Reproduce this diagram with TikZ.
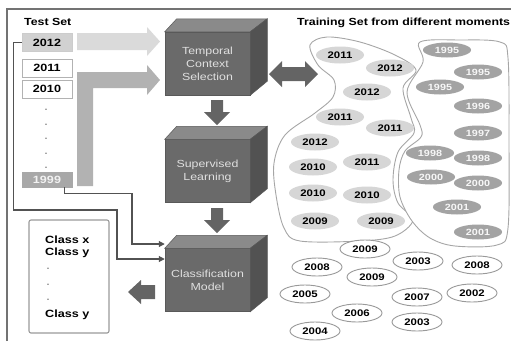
\documentclass[tikz,border=0pt]{standalone}
\usepackage{fontspec}
\setmainfont[FakeStretch=1.2]{Liberation Sans}
\usetikzlibrary{arrows.meta,calc,shapes.geometric}
\definecolor{frontc}{HTML}{6A6A6A}
\definecolor{topc}{HTML}{8A8A8A}
\definecolor{sidec}{HTML}{525252}
\definecolor{blkc}{HTML}{646464}
\definecolor{lightarr}{HTML}{DADADA}
\definecolor{midarr}{HTML}{B2B2B2}
\tikzset{
 framel/.style={draw=black!55, line width=1.3pt},
 tbox/.style={draw=black!30, line width=0.8pt, minimum width=50pt, minimum height=18pt, inner sep=0pt, font=\fontsize{10.5}{12}\selectfont\bfseries},
 front/.style={fill=frontc, draw=black!65, line width=0.5pt, minimum width=85pt, minimum height=63pt, inner sep=0pt, align=center, text=black!12, font=\fontsize{10.3}{13}\selectfont},
 lg/.style={ellipse, fill=black!16, minimum width=48pt, minimum height=17pt, inner sep=0pt, font=\fontsize{9.5}{10}\selectfont\bfseries},
 dg/.style={ellipse, fill=black!36, text=black!3, minimum width=48pt, minimum height=15pt, inner sep=0pt, font=\fontsize{9}{10}\selectfont\bfseries},
 wt/.style={ellipse, draw=black!40, line width=0.9pt, fill=white, minimum width=50pt, minimum height=18pt, inner sep=0pt, font=\fontsize{9.5}{10}\selectfont\bfseries},
 conn/.style={draw=black!68, line width=1.1pt, -{Triangle[length=6pt,width=6pt]}},
 blob/.style={draw=black!35, line width=0.9pt},
 blk/.style={fill=blkc},
 title/.style={font=\fontsize{10.3}{12}\selectfont\bfseries, inner sep=0pt},
 dotn/.style={font=\fontsize{9}{9}\selectfont\bfseries, text=black!45, inner sep=0pt},
 cls/.style={font=\fontsize{10.5}{12}\selectfont\bfseries, inner sep=0pt, anchor=west},
}
\newcommand\mycube[4]{%
  \node[front] (#1) at (#2,#3) {#4};
  \path[fill=topc, draw=black!65, line width=0.5pt] (#1.north west) -- ++(12,-13) -- ($(#1.north east)+(17,-13)$) -- (#1.north east) -- cycle;
  \path[fill=sidec, draw=black!65, line width=0.5pt] (#1.north east) -- ($(#1.north east)+(17,-13)$) -- ($(#1.south east)+(17,-14)$) -- (#1.south east) -- cycle;
}
\begin{document}
\begin{tikzpicture}[x=1pt,y=-1pt]
\useasboundingbox (0,0) rectangle (511,341);
% frame
\draw[framel] (7,341) -- (7,9) -- (511,9);

% titles
\node[title, anchor=west] (tst) at (24,22) {Test Set};
\node[title, anchor=west] (trn) at (297,23) {Training Set from different moments};

% test set boxes
\node[tbox, fill=black!18, draw=black!20] (y2012) at (47,42.5) {2012};
\node[tbox] (y2011) at (47,68) {2011};
\node[tbox] (y2010) at (47,89) {2010};
\node[tbox, fill=black!34, draw=black!34, minimum height=15pt, text=black!5] (y1999) at (47,179.5) {1999};
\foreach \yy/\nm in {110/d1,125/d2,139/d3,154/d4,168/d5}{\node[dotn] (\nm) at (46,\yy) {.};}

% wide arrows into temporal selection
\path[fill=lightarr] (77,33) -- (147,33) -- (147,27) -- (160,41.5) -- (147,56) -- (147,50) -- (77,50) -- cycle;
\path[fill=midarr] (77,186) -- (77,72) -- (147,72) -- (147,65) -- (160,80) -- (147,95) -- (147,88) -- (93,88) -- (93,186) -- cycle;

% cubes
\mycube{tcs}{207.5}{63.5}{Temporal\\Context\\Selection}
\mycube{sl}{207.5}{171}{Supervised\\Learning}
\mycube{cm}{207.5}{280}{Classification\\Model}

% down arrows
\path[blk] (211,100) -- (223,100) -- (223,112) -- (230,112) -- (217,125) -- (204,112) -- (211,112) -- cycle;
\path[blk] (211,208) -- (223,208) -- (223,220) -- (230,220) -- (217,233) -- (204,220) -- (211,220) -- cycle;
% double arrow
\path[blk] (269,74) -- (282,61) -- (282,67) -- (305,67) -- (305,61) -- (318,74) -- (305,87) -- (305,81) -- (282,81) -- (282,87) -- cycle;
% left arrow to classes
\path[blk] (128,292) -- (141,280) -- (141,285) -- (155,285) -- (155,299) -- (141,299) -- (141,304) -- cycle;

% thin connectors
\draw[conn] ([xshift=-8pt]y1999.south east) -- ++(0,6) -| (132,244) -- (cm.west |- 0,244);
\draw[conn] (y2012.west) -- ++(-8,0) |- (117,210) |- (cm.west |- 0,259);

% class box
\draw[draw=black!40, line width=1.1pt, rounded corners=2pt] (29,220) rectangle (109,333);
\node[cls] (c1) at (45,240) {Class x};
\node[cls] (c2) at (45,253) {Class y};
\node[dotn] (c3) at (48,269) {.};
\node[dotn] (c4) at (48,285) {.};
\node[dotn] (c5) at (48,300) {.};
\node[cls] (c6) at (45,315) {Class y};

% blobs
\draw[blob, fill=white] plot[smooth cycle, tension=0.55] coordinates {(310,45) (327,37) (360,42) (395,55) (416,70) (403,88) (411,118) (414,133) (398,152) (393,180) (398,203) (413,220) (395,236) (360,241) (300,241) (284,228) (276,195) (274,163) (285,135) (315,113) (333,97) (334,80) (318,65)};
\draw[blob, fill=white] plot[smooth cycle, tension=0.55] coordinates {(420,42) (460,40) (500,42) (508,58) (509,140) (508,228) (497,245) (455,246) (430,238) (412,221) (400,197) (399,170) (405,151) (421,137) (420,125) (407,92) (423,62)};

% left blob ellipses
\node[lg] (a1) at (340,55) {2011};
\node[lg] (a2) at (390,68) {2012};
\node[lg] (a3) at (367,92) {2012};
\node[lg] (a4) at (340,117) {2011};
\node[lg] (a5) at (390,128) {2011};
\node[lg] (a6) at (315,142) {2012};
\node[lg] (a7) at (367,162) {2011};
\node[lg] (a8) at (313,167) {2010};
\node[lg] (a9) at (313,193) {2010};
\node[lg] (a10) at (367,195) {2010};
\node[lg] (a11) at (315,221) {2009};
\node[lg] (a12) at (381,221) {2009};

% right blob ellipses
\node[dg] (b1) at (447,50) {1995};
\node[dg] (b2) at (478,72) {1995};
\node[dg] (b3) at (440,87) {1995};
\node[dg] (b4) at (478,106) {1996};
\node[dg] (b5) at (478,133) {1997};
\node[dg] (b6) at (430,153) {1998};
\node[dg] (b7) at (478,158) {1998};
\node[dg] (b8) at (431,177) {2000};
\node[dg] (b9) at (478,183) {2000};
\node[dg] (b10) at (457,207) {2001};
\node[dg] (b11) at (478,232) {2001};

% loose ellipses
\node[wt] (w1) at (365,249) {2009};
\node[wt] (w2) at (317,267) {2008};
\node[wt] (w3) at (418,261) {2003};
\node[wt] (w4) at (477,265) {2008};
\node[wt] (w5) at (372,277) {2009};
\node[wt] (w6) at (305,294) {2005};
\node[wt] (w7) at (417,297) {2007};
\node[wt] (w8) at (472,293) {2002};
\node[wt] (w9) at (357,313) {2006};
\node[wt] (w10) at (417,322) {2003};
\node[wt] (w11) at (315,331) {2004};
\end{tikzpicture}
\end{document}
